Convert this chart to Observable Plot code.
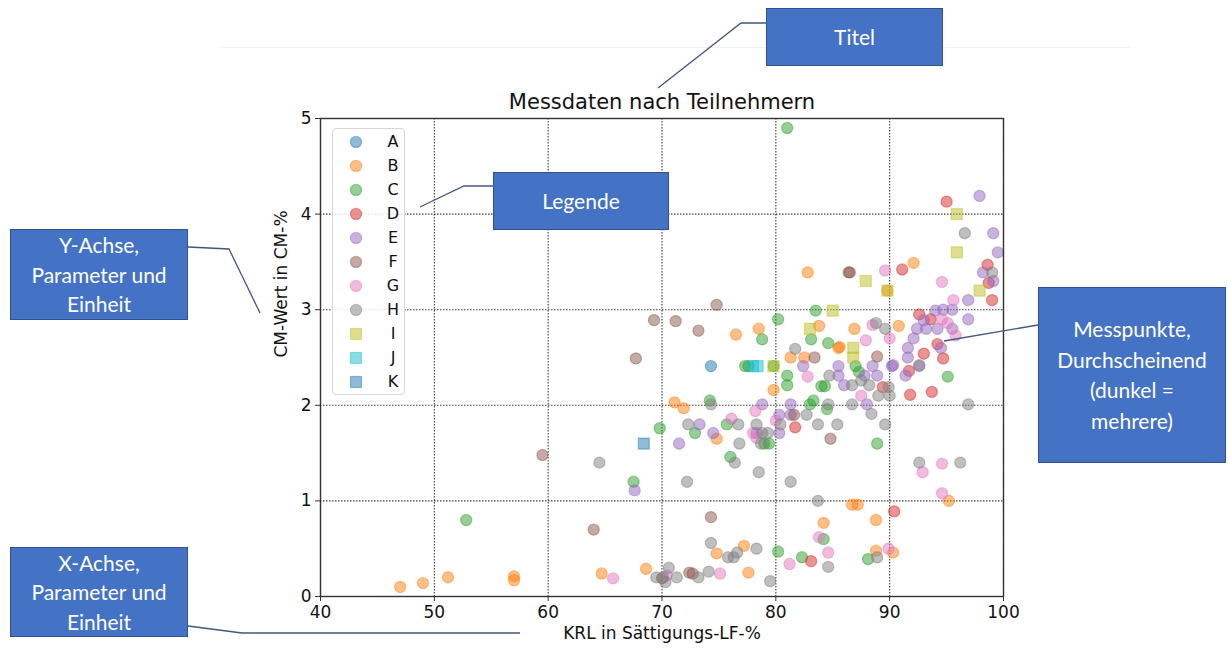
<!DOCTYPE html>
<html>
<head>
<meta charset="utf-8">
<script src="https://cdn.jsdelivr.net/npm/d3@7"></script>
<script src="https://cdn.jsdelivr.net/npm/@observablehq/plot@0.6"></script>
<style>
  html, body { margin: 0; padding: 0; background: #fff; }
  #wrap { position: relative; width: 1228px; height: 650px; overflow: hidden; }
  #wrap > svg.plot { position: absolute; left: 0; top: 0; }
  .box { position: absolute; background: #4472C4; border: 1px solid #2F528F; color: #fff;
         font-family: Lato, "Open Sans", sans-serif; font-size: 21px; line-height: 29.5px;
         display: flex; align-items: center; justify-content: center; text-align: center; box-sizing: border-box; }
  #legend { position: absolute; left: 332px; top: 128px; width: 73px; height: 267px; box-sizing: border-box;
            border: 1px solid #d6d6d6; border-radius: 4px; background: rgba(255,255,255,0.85);
            font-family: "DejaVu Sans", sans-serif; font-size: 16px; color: #111; }
  .lg { position: absolute; left: 0; width: 73px; height: 20px; }
  .lg svg { position: absolute; left: 16px; top: 3px; }
  .lg span { position: absolute; left: 50px; width: 20px; text-align: center; top: 0; line-height: 20px; }
  #conn { position: absolute; left: 0; top: 0; pointer-events: none; }
  #figedge { position: absolute; left: 220px; top: 47px; width: 910px; height: 0; border-top: 1px solid #f1f1f1; }
</style>
</head>
<body>
<div id="wrap"><div id="figedge"></div></div>
<script>
// ---- data ----
const seriesNames = ["A","B","C","D","E","F","G","H","I","J","K"];
const seriesColors = ["#1f77b4","#ff7f0e","#2ca02c","#d62728","#9467bd","#8c564b","#e377c2","#7f7f7f","#bcbd22","#17becf","#1f77b4"];
const squareSeries = ["I","J","K"];
const xTicks = [40,50,60,70,80,90,100];
const yTicks = [0,1,2,3,4,5];
const titleText = "Messdaten nach Teilnehmern";
const xLabel = "KRL in Sättigungs-LF-%";
const yLabel = "CM-Wert in CM-%";

const A = [[74.3,2.41]];
const B = [[47.0,0.10],[49.0,0.14],[51.2,0.20],[57.0,0.21],[57.0,0.17],[64.7,0.24],[68.6,0.29],[71.1,2.03],[71.9,1.97],
  [74.8,1.65],[76.5,2.74],[78.5,2.80],[79.8,2.16],[81.3,2.50],[82.5,2.50],[82.8,3.39],[83.8,2.83],[85.5,2.60],[85.6,2.61],
  [86.9,2.80],[90.8,2.83],[92.1,3.49],[89.8,3.20],[86.7,0.96],[87.2,0.96],[95.2,1.00],[84.2,0.77],[88.8,0.80],[77.2,0.53],
  [74.8,0.45],[77.6,0.25],[88.8,0.48],[90.3,0.46]];
const C = [[52.8,0.80],[67.5,1.20],[69.8,1.76],[81.0,4.90],[80.2,2.90],[78.8,2.69],[83.5,2.99],[83.1,2.69],[84.6,2.65],
  [87.0,2.41],[87.3,2.35],[77.3,2.41],[77.6,2.41],[79.8,2.41],[81.0,2.31],[81.0,2.21],[84.0,2.20],[84.3,2.20],[95.1,2.30],
  [74.2,2.05],[72.9,1.71],[75.7,1.80],[79.0,1.60],[79.4,1.60],[83.0,2.01],[83.3,2.05],[84.5,1.96],[88.9,1.60],[76.0,1.46],
  [84.2,0.60],[80.2,0.47],[82.3,0.41],[88.1,0.39]];
const D = [[95.0,4.13],[91.1,3.42],[98.6,3.47],[98.7,3.28],[99.0,3.10],[92.6,2.95],[93.6,2.90],[94.2,2.64],[93.0,2.54],
  [94.7,2.49],[89.4,2.19],[91.7,2.36],[91.8,2.11],[93.7,2.14],[81.7,1.77],[90.4,0.89],[83.1,0.37]];
const E = [[67.6,1.11],[71.5,1.60],[73.3,1.80],[74.5,1.71],[78.8,2.01],[78.3,1.71],[80.3,1.90],[80.3,1.71],[81.3,2.01],
  [81.3,1.90],[82.4,2.41],[85.5,2.41],[85.5,2.31],[86.0,2.21],[87.8,2.31],[88.5,2.41],[88.9,2.31],[90.2,2.41],[91.6,2.50],
  [91.4,2.31],[92.6,2.41],[88.0,2.01],[97.9,4.19],[99.1,3.80],[99.5,3.60],[98.2,3.39],[99.1,3.30],[96.9,3.10],[94.0,2.99],
  [94.7,3.00],[95.5,3.00],[96.9,2.90],[93.0,2.89],[92.4,2.80],[93.2,2.80],[94.2,2.80],[95.5,2.80],[92.1,2.70],[94.5,2.60],
  [91.6,2.60],[90.3,2.42]];
const F = [[59.5,1.48],[64.0,0.70],[67.7,2.49],[69.3,2.89],[71.2,2.88],[73.2,2.78],[74.8,3.05],[86.4,3.39],[86.5,3.39],
  [83.4,2.50],[88.9,2.51],[81.6,1.90],[84.8,1.65],[74.3,0.83],[72.4,0.25],[72.7,0.24],[70.0,0.19]];
const G = [[65.7,0.19],[78.2,1.94],[76.1,1.86],[78.0,1.71],[78.3,1.66],[80.0,1.84],[82.8,2.30],[87.5,2.10],[89.6,3.41],
  [94.6,3.29],[95.6,3.10],[88.5,2.84],[87.9,2.68],[90.0,2.70],[94.6,2.90],[95.1,2.86],[95.8,2.73],[92.9,1.30],[94.6,1.39],
  [94.6,1.08],[83.8,0.62],[84.6,0.46],[81.2,0.34],[89.9,0.50],[75.1,0.24],[70.4,0.22]];
const H = [[64.5,1.40],[69.5,0.20],[70.1,0.20],[70.6,0.30],[70.3,0.15],[71.3,0.20],[73.2,0.20],[74.1,0.26],[72.3,1.80],
  [74.3,2.01],[76.7,1.80],[76.8,1.60],[78.3,1.80],[78.8,1.71],[79.3,1.71],[78.7,1.60],[80.4,1.80],[82.7,1.90],[84.6,2.01],
  [83.7,1.80],[85.4,1.80],[86.7,2.01],[88.4,1.91],[89.6,1.80],[81.7,2.59],[88.8,2.86],[89.6,2.80],[84.7,2.31],[86.7,2.21],
  [87.5,2.26],[88.2,2.21],[89.9,2.19],[89.0,2.10],[90.0,2.10],[92.6,2.42],[96.6,3.80],[99.0,3.39],[96.9,2.01],[76.4,1.40],
  [72.2,1.20],[78.5,1.30],[81.3,1.20],[92.6,1.40],[96.2,1.40],[83.7,1.00],[74.3,0.56],[75.8,0.41],[76.3,0.41],[76.6,0.46],
  [78.3,0.50],[84.6,0.31],[88.9,0.41],[79.5,0.16]];
const I = [[95.9,4.00],[95.9,3.60],[97.9,3.20],[87.9,3.30],[89.8,3.20],[85.0,2.99],[83.0,2.80],[86.8,2.60],[86.8,2.50],[79.8,2.41]];
const J = [[78.0,2.41],[78.4,2.41]];
const K = [[68.4,1.60]];
const seriesPoints = [A,B,C,D,E,F,G,H,I,J,K];

// ---- build rows ----
const rows = seriesNames.flatMap((s, i) => seriesPoints[i].map(([x, y]) => ({s, x, y})));
const circles = rows.filter(d => !squareSeries.includes(d.s));
const squares = rows.filter(d => squareSeries.includes(d.s));

const dotStyle = {x: "x", y: "y", fill: "s", stroke: "s", fillOpacity: 0.5, strokeOpacity: 0.45, strokeWidth: 1.2};

const chart = Plot.plot({
  width: 1228, height: 650,
  marginLeft: 320, marginRight: 225, marginTop: 118, marginBottom: 54,
  style: {fontFamily: "DejaVu Sans, sans-serif", fontSize: "17px", color: "#111", background: "transparent", overflow: "visible"},
  x: {domain: [40, 100]},
  y: {domain: [0, 5]},
  color: {domain: seriesNames, range: seriesColors},
  marks: [
    Plot.gridX(xTicks, {stroke: "#333", strokeOpacity: 0.95, strokeDasharray: "1.5,1.5", strokeWidth: 1.1}),
    Plot.gridY(yTicks, {stroke: "#333", strokeOpacity: 0.95, strokeDasharray: "1.5,1.5", strokeWidth: 1.1}),
    Plot.dot(circles, {...dotStyle, r: 5.6}),
    Plot.dot(squares, {...dotStyle, symbol: "square", r: 6.2}),
    Plot.frame({stroke: "#333", strokeWidth: 1.4}),
    Plot.axisX(xTicks, {label: null, tickSize: 5, tickPadding: 4, fontSize: 17, stroke: "#333", tickFormat: d => String(d)}),
    Plot.axisY(yTicks, {label: null, tickSize: 5, tickPadding: 4, fontSize: 17, stroke: "#333", tickFormat: d => String(d)}),
    Plot.text([titleText], {frameAnchor: "top", dy: -16, lineAnchor: "middle", fontSize: 21, fill: "#111"}),
    Plot.text([xLabel], {frameAnchor: "bottom", dy: 37, lineAnchor: "middle", fontSize: 17, fill: "#111"}),
    Plot.text([yLabel], {frameAnchor: "left", dx: -39, rotate: -90, lineAnchor: "middle", fontSize: 17, fill: "#111"})
  ]
});
chart.classList.add("plot");
const wrap = document.getElementById("wrap");
wrap.appendChild(chart);

// ---- legend ----
const legend = document.createElement("div");
legend.id = "legend";
seriesNames.forEach((s, i) => {
  const row = document.createElement("div");
  row.className = "lg";
  row.style.top = (3 + i * 24) + "px";
  const col = seriesColors[i];
  const shape = squareSeries.includes(s)
    ? `<rect x="1.5" y="1.5" width="11" height="11" fill="${col}" fill-opacity="0.5" stroke="${col}" stroke-opacity="0.45" stroke-width="1.2"/>`
    : `<circle cx="7" cy="7" r="5.6" fill="${col}" fill-opacity="0.5" stroke="${col}" stroke-opacity="0.45" stroke-width="1.2"/>`;
  row.innerHTML = `<svg width="14" height="14">${shape}</svg><span>${s}</span>`;
  legend.appendChild(row);
});
wrap.appendChild(legend);

// ---- annotation connectors ----
const ns = "http://www.w3.org/2000/svg";
const conn = document.createElementNS(ns, "svg");
conn.setAttribute("id", "conn");
conn.setAttribute("width", 1228);
conn.setAttribute("height", 650);
const paths = [
  "M766,23 L741,23 L658,88",
  "M493,186 L464,186 L420,207",
  "M188,247 L229,249 L260,313",
  "M188,626 L242,633 L520,633",
  "M1038,325 L944,341"
];
paths.forEach(p => {
  const el = document.createElementNS(ns, "path");
  el.setAttribute("d", p);
  el.setAttribute("fill", "none");
  el.setAttribute("stroke", "#44567f");
  el.setAttribute("stroke-width", "1.3");
  conn.appendChild(el);
});
wrap.appendChild(conn);

// ---- annotation boxes ----
const boxes = [
  {l: 766, t: 8, w: 177, h: 58, html: "Titel"},
  {l: 493, t: 172, w: 176, h: 58, html: "Legende"},
  {l: 10, t: 229, w: 178, h: 91, html: "Y-Achse,<br>Parameter und<br>Einheit"},
  {l: 10, t: 547, w: 178, h: 90, html: "X-Achse,<br>Parameter und<br>Einheit"},
  {l: 1038, t: 287, w: 188, h: 176, html: "Messpunkte,<br>Durchscheinend<br>(dunkel =<br>mehrere)"}
];
boxes.forEach(b => {
  const d = document.createElement("div");
  d.className = "box";
  Object.assign(d.style, {left: b.l + "px", top: b.t + "px", width: b.w + "px", height: b.h + "px"});
  if (b.l === 1038) d.style.lineHeight = "30.5px";
  d.innerHTML = b.html;
  wrap.appendChild(d);
});
</script>
</body>
</html>
